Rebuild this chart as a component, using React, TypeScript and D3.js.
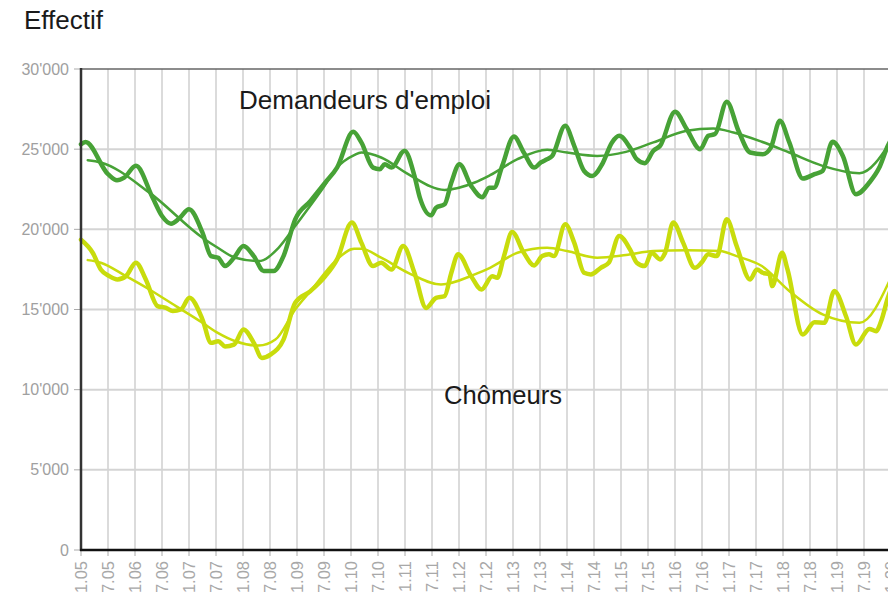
import React, { useRef, useEffect } from 'react';
import * as d3 from 'd3';

// month offsets from January 2005
const demandeurs: [number, number][] = [
  [0, 25300], [1, 25450], [6, 23440], [8, 23060], [9.6, 23230], [12.2, 23960],
  [15.9, 21980], [18, 20830], [20, 20350], [21.8, 20670], [24, 21250], [27, 19790],
  [28.9, 18330], [30.5, 18230], [32, 17710], [34, 18230], [36.1, 18960], [38.4, 18330],
  [40.6, 17400], [42.8, 17400], [45, 18330], [47.6, 20625], [51, 21770], [54.3, 22920],
  [56.9, 23850], [60.5, 26080], [62.3, 25420], [64.9, 23850], [66.4, 23750], [67.5, 24060],
  [69, 23850], [71.9, 24900], [74.1, 23330], [75.3, 21980], [77.8, 20875], [78.9, 21350],
  [80.8, 21560], [82.3, 22920], [84.1, 24060], [86.7, 22710], [89.2, 22000], [90.7, 22600],
  [91.8, 22600], [93.6, 23960], [96.2, 25790], [98.4, 24790], [100.7, 23850], [102.2, 24170],
  [103.6, 24375], [104.7, 24580], [107.6, 26460], [109.6, 25210], [111.8, 23640], [113.6, 23330],
  [115.8, 24060], [118, 25420], [119.6, 25830], [122, 25100], [123.5, 24375], [125.3, 24125],
  [127.2, 24900], [128.7, 25210], [132, 27330], [134.6, 26250], [137.6, 25000], [139.4, 25830],
  [140.9, 25940], [143.5, 27960], [146.1, 26150], [148.7, 24790], [151.5, 24690], [153.3, 25100],
  [155.3, 26770], [157.4, 25420], [160.4, 23170], [163, 23440], [164.8, 23640], [167, 25460],
  [169.3, 24580], [172.2, 22190], [175.2, 22920], [177.4, 23850], [179.3, 25210], [180, 25600],
];

const chomeurs: [number, number][] = [
  [0, 19350], [2.6, 18540], [4.4, 17500], [6.3, 17080], [8.1, 16875], [10, 17080],
  [12.2, 17920], [14.4, 16875], [17, 15210], [18.9, 15100], [20.4, 14900], [22.2, 15000],
  [24.1, 15730], [27, 14375], [28.9, 12920], [30.5, 13020], [32, 12700], [34, 12810],
  [36.1, 13750], [38.4, 12920], [40.2, 11980], [42.1, 12190], [45, 13125], [47.6, 15420],
  [51, 16150], [54.3, 17080], [56.9, 18125], [60.2, 20420], [62.3, 19170], [64.9, 17710],
  [66.7, 17920], [69, 17500], [71.6, 18960], [74.1, 17290], [76.7, 15100], [78.9, 15730],
  [80.8, 15830], [82.3, 17290], [83.8, 18440], [86.7, 17080], [89, 16250], [91.4, 17080],
  [92.5, 16980], [94, 18330], [95.8, 19830], [98.4, 18540], [100.7, 17750], [102.5, 18330],
  [104, 18440], [105.1, 18330], [107.6, 20310], [109.6, 19170], [111.8, 17290], [113.3, 17190],
  [115.5, 17600], [117.3, 17920], [119.6, 19580], [122, 18750], [123.5, 17920], [125.3, 17710],
  [126.8, 18540], [128.7, 18125], [129.8, 18540], [131.6, 20420], [133.8, 19170], [136.4, 17600],
  [137.9, 17920], [139.4, 18440], [141.3, 18330], [143.5, 20625], [145.7, 18960], [148.7, 16875],
  [150.2, 17500], [151.5, 17290], [153, 17190], [153.6, 16460], [155.8, 18540], [157, 17500],
  [160.4, 13440], [163, 14210], [165.2, 14170], [167.4, 16150], [170, 14580], [172.2, 12810],
  [175.2, 13790], [176.7, 13650], [177.8, 14270], [179.3, 15730], [180, 16300],
];

const demandeursTrend: [number, number][] = [
  [1.5, 24310], [4.4, 24170], [15.2, 22290], [27, 19480], [30.4, 18850], [34.3, 18230],
  [39.5, 18020], [43.9, 18850], [47.6, 20210], [53.6, 22500], [56.9, 23850], [60.7, 24625],
  [62.3, 24790], [66.7, 24480], [72.7, 23440], [80.8, 22460], [87.5, 22920], [90.9, 23375],
  [97, 24375], [103.6, 24960], [108, 24790], [114.7, 24580], [121.1, 24830], [127.2, 25420],
  [134.6, 26150], [140.5, 26290], [145, 26040], [151.3, 25460], [157.4, 24790], [164.8, 23960],
  [173, 23500], [180, 25500],
];

const chomeursTrend: [number, number][] = [
  [1.5, 18080], [4.4, 17920], [10, 17080], [15.2, 16250], [21.1, 15210], [27, 14170],
  [30.4, 13540], [34.3, 13020], [39.5, 12750], [43.2, 13125], [47.6, 15000], [51.3, 16250],
  [56.5, 18020], [60.7, 18790], [62.3, 18790], [66.7, 18230], [72.7, 17290], [80, 16560],
  [87.5, 17190], [90.9, 17600], [97, 18540], [103.6, 18850], [108, 18650], [114.7, 18230],
  [121.1, 18400], [127.2, 18650], [134.6, 18690], [142, 18650], [145.7, 18330], [151.3, 17710],
  [157.4, 16150], [164.8, 14690], [173, 14170], [180, 17000],
];

const xTickLabels = [
  '01.05', '07.05', '01.06', '07.06', '01.07', '07.07', '01.08', '07.08', '01.09', '07.09',
  '01.10', '07.10', '01.11', '07.11', '01.12', '07.12', '01.13', '07.13', '01.14', '07.14',
  '01.15', '07.15', '01.16', '07.16', '01.17', '07.17', '01.18', '07.18', '01.19', '07.19', '01.20',
];
const yTicks = [0, 5000, 10000, 15000, 20000, 25000, 30000];

const DARK = '#47a236';
const LIGHT = '#c8dc0c';
const FONT = '"Liberation Sans", Arial, sans-serif';

export default function App() {
  const ref = useRef<SVGSVGElement>(null);

  useEffect(() => {
    if (!ref.current) return;
    const svg = d3.select(ref.current);
    svg.selectAll('*').remove();

    const left = 81, top = 69, bottom = 550;
    const x = d3.scaleLinear().domain([0, 180]).range([left, left + 810]);
    const y = d3.scaleLinear().domain([0, 30000]).range([bottom, top]);

    // grid
    const grid = svg.append('g');
    grid.selectAll('line.v')
      .data(xTickLabels)
      .enter()
      .append('line')
      .attr('x1', (_, i) => x(i * 6))
      .attr('x2', (_, i) => x(i * 6))
      .attr('y1', top)
      .attr('y2', bottom)
      .attr('stroke', '#cfcfcf')
      .attr('stroke-width', 1.5);
    grid.selectAll('line.h')
      .data(yTicks.slice(1, -1))
      .enter()
      .append('line')
      .attr('x1', left)
      .attr('x2', 888)
      .attr('y1', d => y(d))
      .attr('y2', d => y(d))
      .attr('stroke', '#d4d4d4')
      .attr('stroke-width', 2);

    // top border
    svg.append('line')
      .attr('x1', left).attr('x2', 888)
      .attr('y1', y(30000)).attr('y2', y(30000))
      .attr('stroke', '#666').attr('stroke-width', 1.5);

    // y axis ticks + labels
    const yAxis = svg.append('g');
    yTicks.forEach(t => {
      yAxis.append('line')
        .attr('x1', left - 7).attr('x2', left)
        .attr('y1', y(t)).attr('y2', y(t))
        .attr('stroke', '#aaa').attr('stroke-width', 1);
      yAxis.append('text')
        .attr('x', left - 12)
        .attr('y', y(t))
        .attr('dy', '0.35em')
        .attr('text-anchor', 'end')
        .style('font-family', FONT)
        .style('font-size', '16px')
        .style('fill', '#a0a0a0')
        .text(d3.format(',')(t).replace(/,/g, "'"));
    });

    // x ticks + labels
    xTickLabels.forEach((lab, i) => {
      const px = x(i * 6);
      svg.append('line')
        .attr('x1', px).attr('x2', px)
        .attr('y1', bottom).attr('y2', bottom + 6)
        .attr('stroke', '#aaa').attr('stroke-width', 1);
      svg.append('text')
        .attr('transform', `translate(${px},${bottom + 11}) rotate(-90)`)
        .attr('text-anchor', 'end')
        .attr('dy', '0.35em')
        .style('font-family', FONT)
        .style('font-size', '16.5px')
        .style('fill', '#a8a8a8')
        .text(lab);
    });

    // lines
    const line = d3.line<[number, number]>()
      .x(d => x(d[0]))
      .y(d => y(d[1]))
      .curve(d3.curveMonotoneX);

    const series = [
      { pts: chomeursTrend, color: LIGHT, w: 2.5 },
      { pts: demandeursTrend, color: DARK, w: 2.5 },
      { pts: chomeurs, color: LIGHT, w: 4.5 },
      { pts: demandeurs, color: DARK, w: 4.5 },
    ];
    series.forEach(s => {
      svg.append('path')
        .datum(s.pts)
        .attr('fill', 'none')
        .attr('stroke', s.color)
        .attr('stroke-width', s.w)
        .attr('stroke-linejoin', 'round')
        .attr('stroke-linecap', 'round')
        .attr('d', line);
    });

    // axes lines
    svg.append('line')
      .attr('x1', left).attr('x2', left)
      .attr('y1', top - 1).attr('y2', bottom + 1)
      .attr('stroke', '#333').attr('stroke-width', 2.5);
    svg.append('line')
      .attr('x1', left - 1).attr('x2', 888)
      .attr('y1', bottom).attr('y2', bottom)
      .attr('stroke', '#111').attr('stroke-width', 2.5);

    // titles
    const label = (txt: string, tx: number, ty: number, size: number) =>
      svg.append('text')
        .attr('x', tx).attr('y', ty)
        .style('font-family', FONT)
        .style('font-size', `${size}px`)
        .style('fill', '#1a1a1a')
        .text(txt);
    label('Effectif', 24, 29, 26);
    label("Demandeurs d'emploi", 239, 109, 26);
    label('Chômeurs', 444, 404, 25.6);
  }, []);

  return (
    <svg
      ref={ref}
      width={888}
      height={592}
      style={{ position: 'absolute', left: 0, top: 0, background: '#fff' }}
    />
  );
}
